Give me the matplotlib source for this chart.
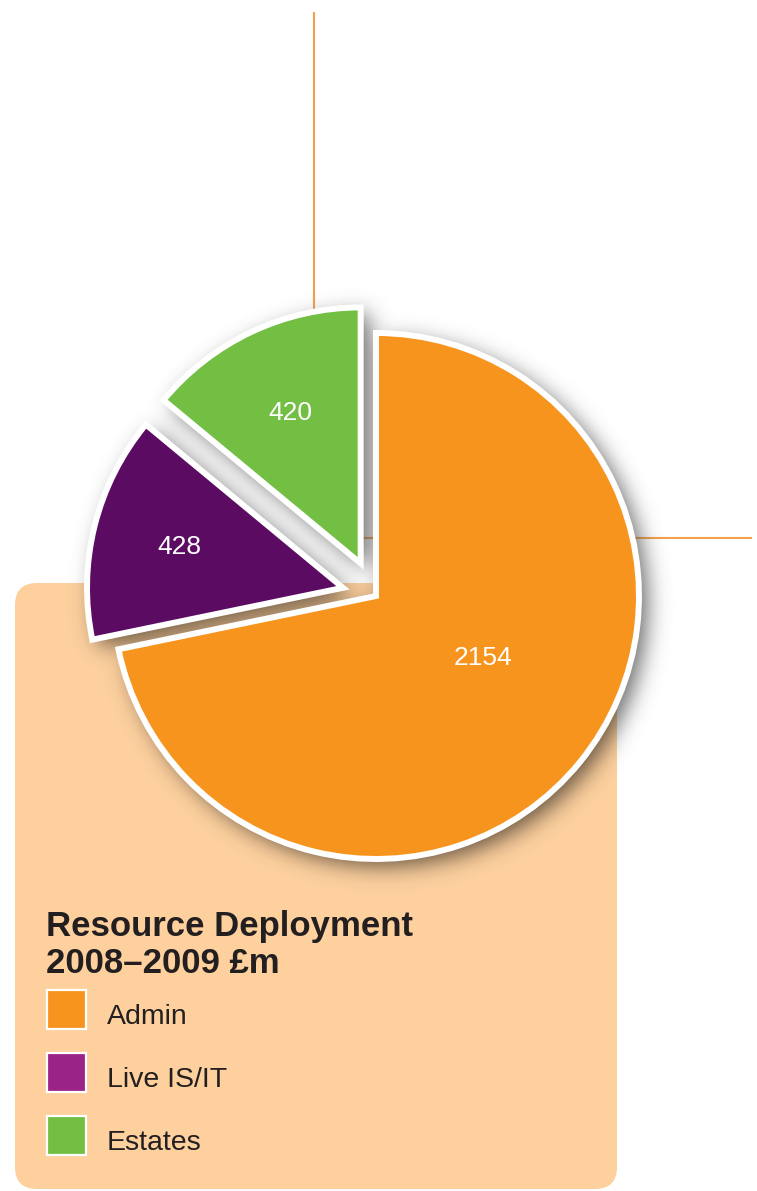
import numpy as np
import matplotlib
matplotlib.use("Agg")
import matplotlib.pyplot as plt
from matplotlib.patches import FancyBboxPatch, Rectangle
import matplotlib.colors as mcolors

# ---------------- data ----------------
categories = ["Admin", "Live IS/IT", "Estates"]
values = [2154, 428, 420]
pie_colors = ["#F7941E", "#5C0B62", "#72BF44"]
legend_colors = ["#F7941E", "#9A2387", "#72BF44"]
title = "Resource Deployment\n2008\u20132009 \u00a3m"

# ---------------- layout ----------------
W, H = 757, 1191
fig = plt.figure(figsize=(W / 100, H / 100), dpi=100)
ax = fig.add_axes([0, 0, 1, 1])

CENTER = (376, H - 596)
R_MAIN = 263
R_SMALL = 256
EXPLODE = [0, 34, 36]
LABEL_DIST = [0.47, 0.66, 0.65]
LABEL_SHIFT = [9, 0, 0]
LINE_COLOR = "#F4A04A"
PEACH = "#FDD09E"
TEXT_DARK = "#231F20"

# background orange guide lines
ax.plot([314, 314], [H - 12, H - 310], color=LINE_COLOR, lw=1.5, zorder=1, solid_capstyle="butt")
ax.plot([360, 752], [H - 538, H - 538], color=LINE_COLOR, lw=1.5, zorder=1, solid_capstyle="butt")

# peach panel
panel = FancyBboxPatch((15 + 22, 2 + 22), 602 - 44, 606 - 44,
                       boxstyle="round,pad=22", fc=PEACH, ec="none", zorder=2)
ax.add_patch(panel)

# pie
wedges, _ = ax.pie(values, colors=pie_colors, startangle=90, counterclock=False,
                   radius=R_MAIN, center=CENTER, explode=EXPLODE,
                   wedgeprops=dict(edgecolor="white", linewidth=4.3, zorder=4))
for w in wedges[1:]:
    w.set_radius(R_SMALL)
for w in wedges:
    w.set_zorder(4)

# soft drop shadow computed from the wedge shapes
xs = np.arange(W) + 0.5
ys = np.arange(H) + 0.5
XX, YY = np.meshgrid(xs, ys)
pts = np.column_stack([XX.ravel(), YY.ravel()])
off = np.array([8.0, -7.0])
mask = np.zeros(H * W, bool)
for w in wedges:
    p = w.get_path()
    mask |= p.contains_points(pts - off)
m = mask.reshape(H, W).astype(float)
sig = 11.0
kx = np.arange(-36, 37)
k = np.exp(-0.5 * (kx / sig) ** 2)
k /= k.sum()
m = np.apply_along_axis(lambda r: np.convolve(r, k, "same"), 1, m)
m = np.apply_along_axis(lambda c: np.convolve(c, k, "same"), 0, m)
inpeach = panel.get_path().contains_points(pts).reshape(H, W)
S = 0.3
base = np.ones((H, W, 3))
base[inpeach] = mcolors.to_rgb(PEACH)
rgba = np.zeros((H, W, 4))
rgba[..., :3] = base * S
rgba[..., 3] = np.clip(0.85 * m, 0, 1)
ax.imshow(rgba, extent=(0, W, 0, H), origin="lower", zorder=3, interpolation="bilinear")

# value labels
for w, v, d, sh in zip(wedges, values, LABEL_DIST, LABEL_SHIFT):
    th = np.deg2rad((w.theta1 + w.theta2) / 2 + sh)
    cx, cy = w.center
    ax.text(cx + d * w.r * np.cos(th), cy + d * w.r * np.sin(th), str(v),
            color="white", fontsize=19, ha="center", va="center",
            family="Liberation Sans", zorder=5)

# legend
ax.text(46, H - 973, title, fontsize=25, fontweight="bold", color=TEXT_DARK,
        family="Liberation Sans", ha="left", va="baseline", linespacing=1.15, zorder=5)
for i, (lab, col) in enumerate(zip(categories, legend_colors)):
    top = 990 + i * 63
    ax.add_patch(Rectangle((47, H - top - 39), 39, 39, fc=col, ec="white", lw=1.6, zorder=5))
    ax.text(107, H - top - 34, lab, fontsize=20.5, color=TEXT_DARK,
            family="Liberation Sans", ha="left", va="baseline", zorder=5)

ax.set_xlim(0, W)
ax.set_ylim(0, H)
ax.set_aspect("equal")
ax.axis("off")
fig.savefig("out.png", dpi=100)
